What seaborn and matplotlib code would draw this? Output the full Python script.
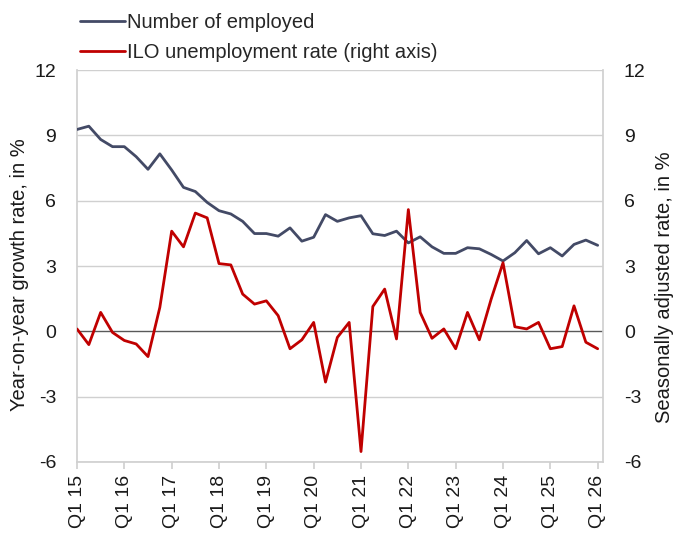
import matplotlib
matplotlib.use("Agg")
import matplotlib.pyplot as plt
import seaborn as sns
import pandas as pd
import numpy as np

quarters = [f"Q{q} {y}" for y in range(15, 27) for q in range(1, 5)][:45]
employed = [9.27, 9.42, 8.81, 8.48, 8.48, 8.02, 7.44, 8.15, 7.41, 6.61,
            6.42, 5.92, 5.54, 5.39, 5.05, 4.49, 4.49, 4.37, 4.75, 4.14,
            4.32, 5.36, 5.05, 5.21, 5.31, 4.48, 4.40, 4.60, 4.06, 4.34,
            3.88, 3.58, 3.58, 3.84, 3.79, 3.53, 3.23, 3.61, 4.17, 3.56,
            3.84, 3.46, 3.99, 4.19, 3.95]
unemployment = [0.11, -0.61, 0.87, -0.05, -0.42, -0.58, -1.16, 1.10, 4.60, 3.88,
                5.43, 5.21, 3.11, 3.05, 1.71, 1.25, 1.40, 0.72, -0.80, -0.39,
                0.41, -2.33, -0.28, 0.41, -5.52, 1.14, 1.94, -0.35, 5.59, 0.87,
                -0.32, 0.11, -0.80, 0.87, -0.39, 1.48, 3.15, 0.21, 0.11, 0.41,
                -0.80, -0.70, 1.17, -0.50, -0.80]
tick_labels = [f"Q1 {y}" for y in range(15, 27)]
yticks = [-6, -3, 0, 3, 6, 9, 12]

df = pd.DataFrame({"idx": np.arange(len(quarters)), "quarter": quarters,
                   "employed": employed, "unemployment": unemployment})

sns.set_theme(style="white")
plt.rcParams["font.family"] = ["Liberation Sans", "DejaVu Sans"]
plt.rcParams["axes.unicode_minus"] = False

W, H = 676, 533
fig = plt.figure(figsize=(W/100, H/100), dpi=100)
ax = fig.add_axes([77/W, 1-462/H, (603-77)/W, (462-70)/H])
ax2 = ax.twinx()

emp_color = "#434a66"
red_color = "#c00000"
grid_color = "#d0d0d0"
text_color = "#1a1a1a"

for y in yticks:
    if y == 0:
        ax.axhline(y, color="#595959", lw=1.0, zorder=1)
    else:
        ax.axhline(y, color=grid_color, lw=1.0, zorder=1)

sns.lineplot(data=df, x="idx", y="employed", ax=ax, color=emp_color, lw=2.0,
             label="Number of employed", legend=False, zorder=3)
sns.lineplot(data=df, x="idx", y="unemployment", ax=ax2, color=red_color, lw=2.0,
             label="ILO unemployment rate (right axis)", legend=False, zorder=3)

for a in (ax, ax2):
    a.set_ylim(-6, 12)
    a.set_yticks(yticks)
    a.set_xlim(0, 44.45)
    for s in a.spines.values():
        s.set_visible(False)

ax.spines["left"].set_visible(True)
ax.spines["left"].set_color(grid_color)
ax.spines["bottom"].set_visible(True)
ax.spines["bottom"].set_color(grid_color)
ax2.spines["right"].set_visible(True)
ax2.spines["right"].set_color(grid_color)

ax.set_xticks(np.arange(0, 45, 4))
ax.set_xticklabels(tick_labels, rotation=90, fontsize=14, color=text_color)
ax.tick_params(axis="x", bottom=True, length=5, color=grid_color, pad=4)
ax.tick_params(axis="y", left=False, labelsize=14, labelcolor=text_color, pad=16)
ax2.tick_params(axis="y", right=False, labelsize=14, labelcolor=text_color, pad=15)
ax.set_xlabel("")
ax.set_ylabel("")
ax2.set_ylabel("")
for lab in ax.get_yticklabels():
    lab.set_x(-0.0)
ax.tick_params(axis="y", pad=9)
ax2.tick_params(axis="y", pad=9)

fig.text(20/W, 1-275/H, "Year-on-year growth rate, in %", rotation=90,
         ha="center", va="center", fontsize=14.5, color=text_color)
fig.text(664/W, 1-287/H, "Seasonally adjusted rate, in %", rotation=90,
         ha="center", va="center", fontsize=14.5, color=text_color)

h1, l1 = ax.get_legend_handles_labels()
h2, l2 = ax2.get_legend_handles_labels()
fig.legend(h1 + h2, l1 + l2, loc="upper left", bbox_to_anchor=(80/W, 1 - 13/H),
           frameon=False, fontsize=14.5, handlelength=2.25, handletextpad=0.1,
           labelspacing=0.55, borderaxespad=0, borderpad=0)

fig.savefig("out.png", dpi=100, facecolor="white")
